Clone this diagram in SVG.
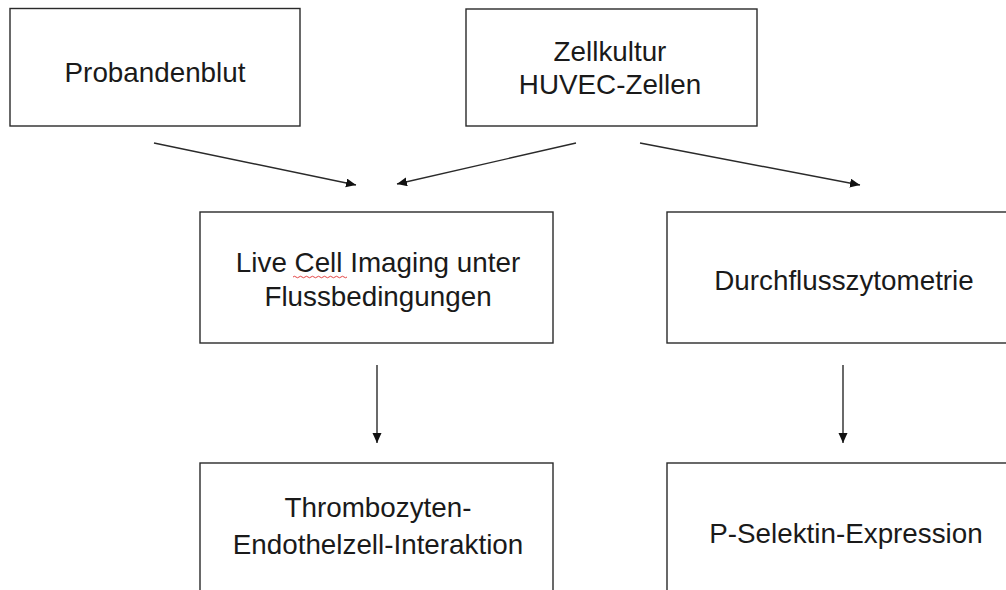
<svg xmlns="http://www.w3.org/2000/svg" width="1006" height="590" viewBox="0 0 1006 590">
  <style>
    .box { fill: #ffffff; stroke: #2a2a2a; stroke-width: 1.4; }
    .lbl { font-family: "Liberation Sans", Arial, sans-serif; font-size: 27.8px; fill: #1a1a1a; text-anchor: middle; }
    .conn { stroke: #2a2a2a; stroke-width: 1.4; fill: none; marker-end: url(#arr); }
  </style>
  <defs>
    <marker id="arr" markerUnits="userSpaceOnUse" markerWidth="11" markerHeight="10" refX="10" refY="4.5" orient="auto">
      <path d="M0,0 L10,4.5 L0,9 z" fill="#111111"/>
    </marker>
  </defs>
  <rect width="1006" height="590" fill="#ffffff"/>

  <g id="node-probandenblut">
    <rect class="box" x="10" y="8.5" width="290" height="117.5"/>
    <text class="lbl" x="155" y="82">Probandenblut</text>
  </g>

  <g id="node-zellkultur">
    <rect class="box" x="466" y="9" width="291" height="117"/>
    <text class="lbl" x="610" y="61">Zellkultur</text>
    <text class="lbl" x="610" y="94">HUVEC-Zellen</text>
  </g>

  <g id="node-live-cell">
    <rect class="box" x="200" y="212" width="353" height="131"/>
    <text class="lbl" x="378" y="272">Live Cell Imaging unter</text>
    <text class="lbl" x="378" y="306">Flussbedingungen</text>
    <path d="M293,277 q1.5,-1.5 3,0 t3,0 t3,0 t3,0 t3,0 t3,0 t3,0 t3,0 t3,0 t3,0 t3,0 t3,0 t3,0 t3,0 t3,0 t3,0 t3,0 t3,0" fill="none" stroke="#e03030" stroke-width="0.9"/>
  </g>

  <g id="node-durchfluss">
    <rect class="box" x="667" y="212" width="353" height="131"/>
    <text class="lbl" x="844" y="290">Durchflusszytometrie</text>
  </g>

  <g id="node-thrombozyten">
    <rect class="box" x="200" y="463" width="353" height="140"/>
    <text class="lbl" x="378" y="517">Thrombozyten-</text>
    <text class="lbl" x="378" y="554">Endothelzell-Interaktion</text>
  </g>

  <g id="node-pselektin">
    <rect class="box" x="667" y="463" width="353" height="140"/>
    <text class="lbl" x="846" y="543">P-Selektin-Expression</text>
  </g>

  <g id="connectors">
    <line class="conn" x1="154" y1="143" x2="356" y2="185"/>
    <line class="conn" x1="576" y1="143" x2="397" y2="184"/>
    <line class="conn" x1="640" y1="143" x2="860" y2="185"/>
    <line class="conn" x1="377" y1="365" x2="377" y2="443"/>
    <line class="conn" x1="843" y1="365" x2="843" y2="443"/>
  </g>
</svg>
